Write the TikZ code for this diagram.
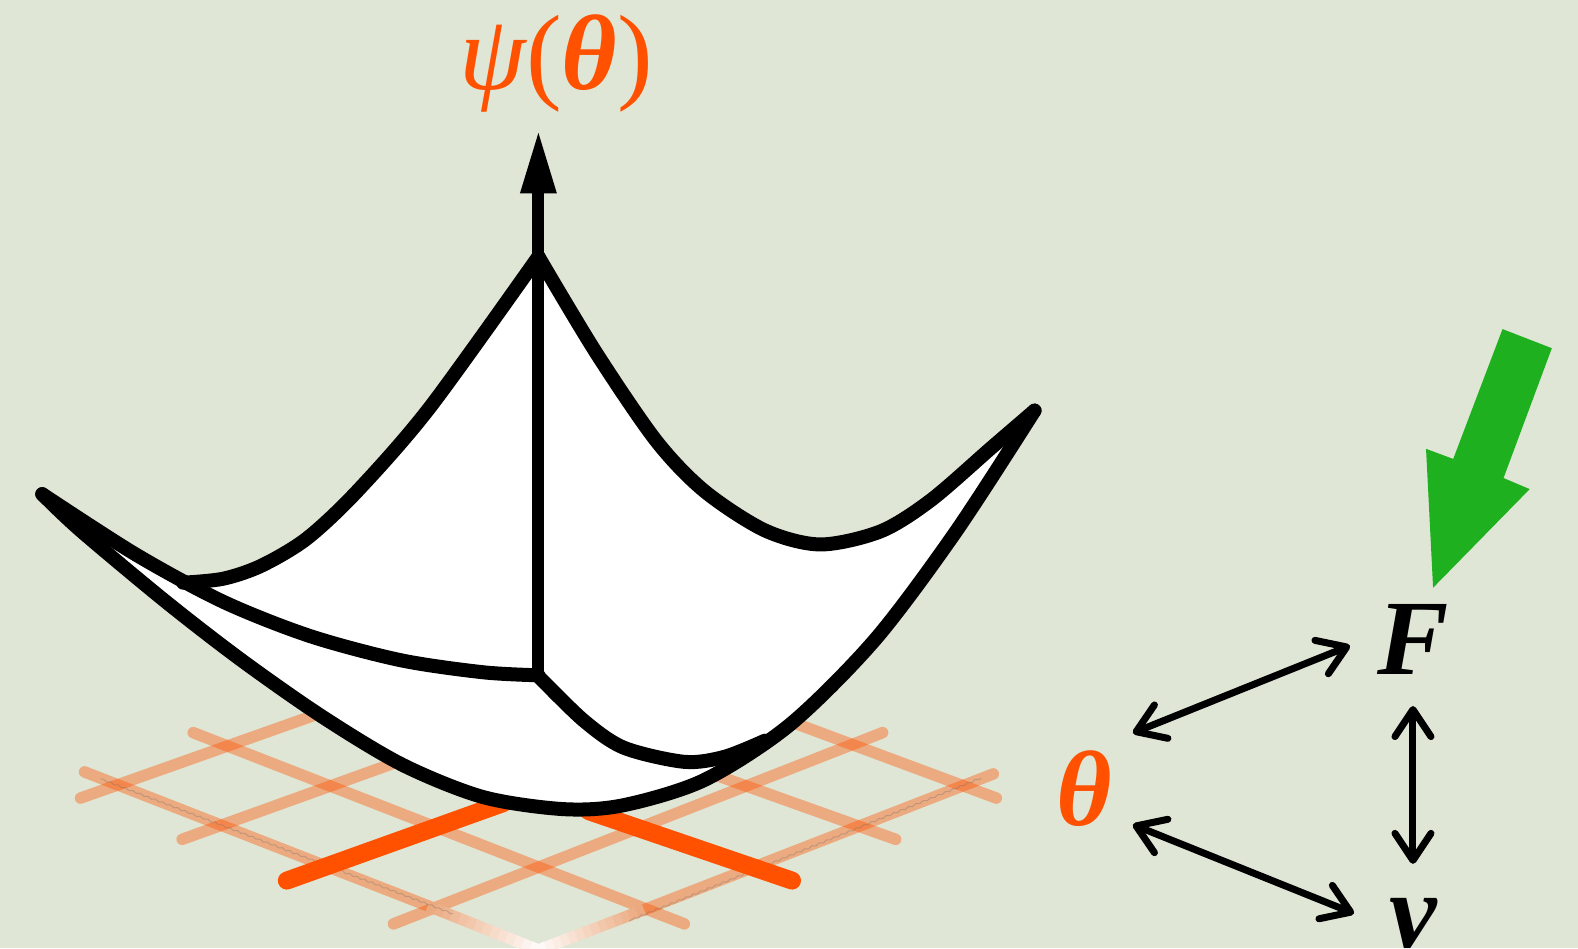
\documentclass[tikz,border=0pt]{standalone}
\usepackage{fontspec}
\setmainfont{Liberation Serif}
\usetikzlibrary{arrows.meta,calc,decorations.pathmorphing}
\definecolor{bgc}{HTML}{DFE6D5}
\definecolor{orng}{HTML}{FF5100}
\definecolor{grn}{HTML}{1EB01E}
\definecolor{gridc}{HTML}{EBA97F}
\tikzset{
  gridline/.style={draw=orng,opacity=.4,line width=11.5pt,line cap=round},
  hotline/.style={draw=orng,line width=18pt,line cap=round},
  rim/.style={draw=black,line width=14pt,line cap=round,line join=round},
  twoway/.style={draw=black,line width=7pt,{Straight Barb[length=27pt,width=36pt,round]}-{Straight Barb[length=27pt,width=36pt,round]}},
  sym/.style={inner sep=0pt,outer sep=0pt,font=\fontsize{107}{107}\selectfont},
  seam/.style={draw=black!60,opacity=.3,line width=1pt,decorate,decoration={snake,amplitude=.8pt,segment length=8pt}}
}
\begin{document}
\begin{tikzpicture}[x=1.00638pt,y=-1.00638pt]
\useasboundingbox (0,0) rectangle (1568,942);
\clip (0,0) rectangle (1568,942);
\fill[bgc] (0,0) rectangle (1568,942);
% ground grid
\draw[gridline] (80,793) -- (320,708);
\draw[gridline] (181,834) -- (395,757);
\draw[gridline] (391,918) -- (877,728);
\draw[gridline] (192,728) -- (680,918);
\draw[gridline] (705,768) -- (890,834);
\draw[gridline] (780,715) -- (990,793);
\draw[gridline] (84,767) -- (425,900);
\draw[gridline] (987,769) -- (640,904);
\coordinate (gridL) at (425,900);
\coordinate (gridR) at (640,904);
\coordinate (gridB) at (535,944);
\foreach \i in {0,...,13}{
  \pgfmathsetmacro{\t}{\i/14}
  \pgfmathsetmacro{\tt}{(\i+1.15)/14}
  \pgfmathsetmacro{\m}{100-\i*7.2}
  \draw[gridc!\m!white,line width=11.5pt] ($(gridL)!\t!(gridB)$) -- ($(gridL)!\tt!(gridB)$);
  \draw[gridc!\m!white,line width=11.5pt] ($(gridR)!\t!(gridB)$) -- ($(gridR)!\tt!(gridB)$);
}
\draw[seam] (100,774) -- (450,908);
\draw[seam] (975,773) -- (625,915);
% highlighted lines
\draw[hotline] (285,875) -- (500,798);
\draw[hotline] (787,875) -- (585,806);
% surface
\fill[white] (42,491) -- (135,551) -- (177,577) -- (222,575) -- (260,562) -- (305,535) -- (355,488) -- (390,452) -- (427,405) -- (470,346) -- (535,255) -- (592,350) -- (652,438) -- (700,488) -- (760,527) -- (815,541) -- (875,528) -- (925,497) -- (985,445) -- (1028,408) -- (950,528) -- (870,635) -- (785,720) -- (700,775) -- (620,800) -- (560,804) -- (480,790) -- (400,757) -- (320,710) -- (240,654) -- (165,598) -- (80,527) -- cycle;
\draw[rim] plot[smooth] coordinates {(42,491) (135,551) (222,598) (308,632) (398,656) (480,668) (535,671)};
\draw[rim] plot[smooth] coordinates {(182,579) (222,575) (260,562) (305,535) (355,488) (427,405) (535,255)};
\draw[rim] plot[smooth] coordinates {(535,255) (592,350) (652,438) (700,488) (760,527) (815,541) (875,528) (925,497) (985,445) (1028,408)};
\draw[rim] plot[smooth] coordinates {(1028,408) (950,528) (870,635) (785,720) (700,775) (620,800) (560,804) (480,792) (400,760) (320,712) (240,656) (165,598) (80,527) (42,491)};
\draw[rim] plot[smooth] coordinates {(535,672) (580,716) (620,743) (680,757) (720,752) (760,736)};
% labels
\node[sym,text=orng,minimum height=132pt] (psi) at (553,63) {{\itshape ψ}({\bfseries\itshape θ})};
\coordinate (axisbase) at (535,672);
\draw[line width=12pt,-{Triangle[length=64pt,width=33pt]}] (axisbase) -- (axisbase |- psi.south);
% force arrow
\fill[grn] (1493,327) -- (1542,346) -- (1494,475) -- (1520,486) -- (1424,584) -- (1417,446) -- (1444,456) -- cycle;
% relation triangle
\node[sym,text=orng,minimum width=98pt,minimum height=112pt] (theta) at (1077,784) {\bfseries\itshape θ};
\node[sym,minimum width=126pt,minimum height=134pt] (F) at (1404,635) {\bfseries\itshape F};
\node[sym,minimum width=118pt,minimum height=120pt] (v) at (1404,918) {\bfseries\itshape v};
\draw[twoway] (theta.north east) -- (F.186.3);
\draw[twoway] (F.south) -- (v.north);
\draw[twoway] (theta.-36) -- (v.170);
\end{tikzpicture}
\end{document}
